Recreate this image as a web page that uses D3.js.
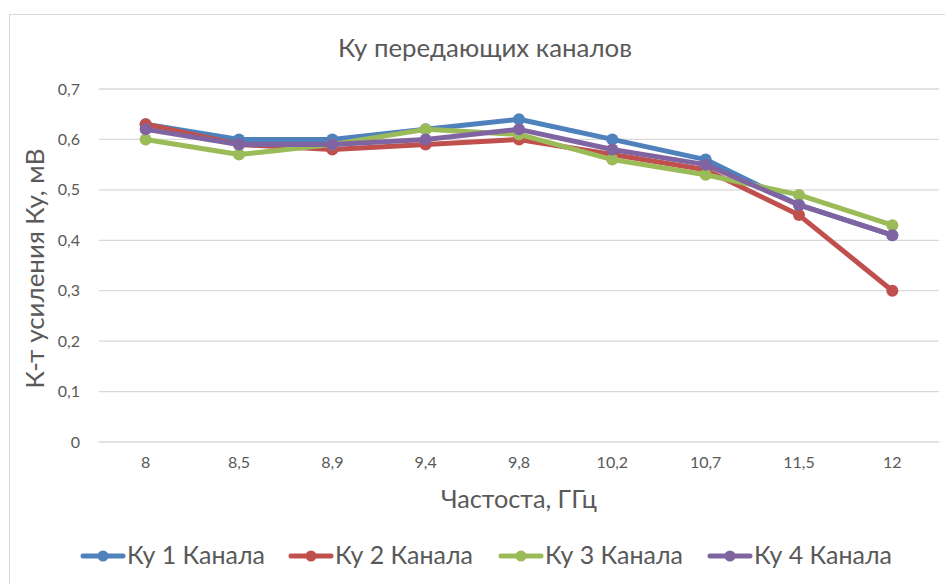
<!DOCTYPE html>
<html>
<head>
<meta charset="utf-8">
<script src="https://cdn.jsdelivr.net/npm/d3@7"></script>
<style>
    body { margin: 0; background: #fff; }
    svg text { font-family: Lato, "Open Sans", sans-serif; fill: #595959; }
</style>
</head>
<body>
<svg></svg>
<script>
let W = 945;
let H = 584;

// data
let categories = ["8", "8,5", "8,9", "9,4", "9,8", "10,2", "10,7", "11,5", "12"];
let seriesNames = ["Ку 1 Канала", "Ку 2 Канала", "Ку 3 Канала", "Ку 4 Канала"];
let ku1 = [0.63, 0.60, 0.60, 0.62, 0.64, 0.60, 0.56, 0.47, 0.41];
let ku2 = [0.63, 0.59, 0.58, 0.59, 0.60, 0.57, 0.54, 0.45, 0.30];
let ku3 = [0.60, 0.57, 0.59, 0.62, 0.61, 0.56, 0.53, 0.49, 0.43];
let ku4 = [0.62, 0.59, 0.59, 0.60, 0.62, 0.58, 0.55, 0.47, 0.41];
let yTicks = [0, 0.1, 0.2, 0.3, 0.4, 0.5, 0.6, 0.7];

let colors = ["#4F81BD", "#C0504D", "#9BBB59", "#8064A2"];
let allSeries = [ku1, ku2, ku3, ku4];

let svg = d3.select("svg").attr("width", W).attr("height", H);

// shrink/grow a text node's font so it spans the given width
function fitWidth(sel, width) {
    sel.each(function () {
        let fs = parseFloat(this.style.fontSize) || 16;
        let w = this.getComputedTextLength();
        if (w > 0) this.style.fontSize = (fs * width / w) + "px";
    });
}

// outer frame
svg.append("rect")
    .attr("x", 9.5).attr("y", 14.5)
    .attr("width", 960).attr("height", 600)
    .attr("fill", "none")
    .attr("stroke", "#d9d9d9")
    .attr("stroke-width", 1);

let plotL = 99, plotR = 939, plotT = 89, plotB = 442;

let x = d3.scaleBand().domain(categories).range([plotL, plotR]);
let y = d3.scaleLinear().domain([0, 0.7]).range([plotB, plotT]);

// gridlines
svg.append("g")
    .selectAll("line")
    .data(yTicks)
    .enter().append("line")
    .attr("x1", plotL).attr("x2", plotR)
    .attr("y1", function (d) { return y(d); })
    .attr("y2", function (d) { return y(d); })
    .attr("stroke", "#d9d9d9")
    .attr("stroke-width", 1.3);

// y axis labels
let yAxis = d3.axisLeft(y)
    .tickValues(yTicks)
    .tickSize(0)
    .tickPadding(19)
    .tickFormat(function (d) { return d === 0 ? "0" : d3.format(".1f")(d).replace(".", ","); });

let gy = svg.append("g").attr("transform", "translate(" + plotL + ",0)").call(yAxis);
gy.select(".domain").remove();
gy.selectAll("text").style("font-size", "16px").attr("fill", "#595959");

// x axis labels
let xAxis = d3.axisBottom(x).tickSize(0).tickPadding(15);
let gx = svg.append("g").attr("transform", "translate(0," + plotB + ")").call(xAxis);
gx.select(".domain").remove();
gx.selectAll("text").style("font-size", "16px").attr("fill", "#595959");
svg.selectAll(".tick text").style("font-family", "Lato, sans-serif");

// lines
let line = d3.line()
    .x(function (d, i) { return x(categories[i]) + x.bandwidth() / 2; })
    .y(function (d) { return y(d); });

allSeries.forEach(function (s, k) {
    svg.append("path")
        .datum(s)
        .attr("d", line)
        .attr("fill", "none")
        .attr("stroke", colors[k])
        .attr("stroke-width", 5)
        .attr("stroke-linejoin", "round")
        .attr("stroke-linecap", "round");

    svg.append("g")
        .selectAll("circle")
        .data(s)
        .enter().append("circle")
        .attr("cx", function (d, i) { return x(categories[i]) + x.bandwidth() / 2; })
        .attr("cy", function (d) { return y(d); })
        .attr("r", 6)
        .attr("fill", colors[k]);
});

// titles
let title = svg.append("text")
    .attr("x", 485).attr("y", 57)
    .attr("text-anchor", "middle")
    .style("font-size", "20px")
    .text("Ку передающих каналов");
fitWidth(title, 294);

let yTitle = svg.append("text")
    .attr("transform", "translate(44," + ((plotT + plotB) / 2 + 3) + ") rotate(-90)")
    .attr("text-anchor", "middle")
    .style("font-size", "22px")
    .text("К-т усиления Ку, мВ");
fitWidth(yTitle, 240);

let xTitle = svg.append("text")
    .attr("x", 519).attr("y", 508)
    .attr("text-anchor", "middle")
    .style("font-size", "22px")
    .text("Частоста, ГГц");
fitWidth(xTitle, 156);

// legend
let legendX = [81, 289, 499, 708];
let legend = svg.append("g");
seriesNames.forEach(function (name, k) {
    let g = legend.append("g").attr("transform", "translate(" + legendX[k] + ",556)");
    g.append("line")
        .attr("x1", 2).attr("x2", 42)
        .attr("y1", 0).attr("y2", 0)
        .attr("stroke", colors[k])
        .attr("stroke-width", 5)
        .attr("stroke-linecap", "round");
    g.append("circle").attr("cx", 22).attr("cy", 0).attr("r", 5.5).attr("fill", colors[k]);
    let t = g.append("text")
        .attr("x", 46).attr("y", 8)
        .style("font-size", "22px")
        .text(name);
    fitWidth(t, 138);
});
</script>
</body>
</html>
